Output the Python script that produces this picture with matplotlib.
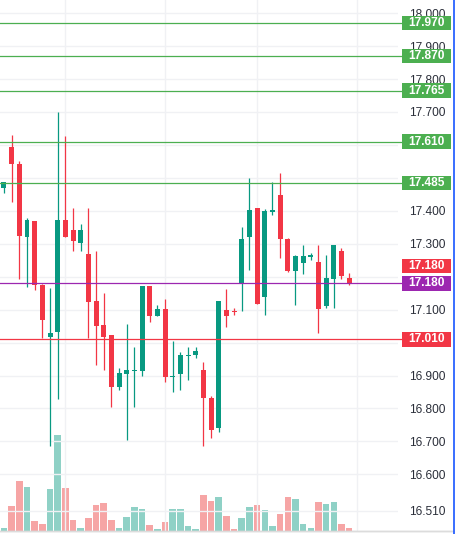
import matplotlib
matplotlib.use("Agg")
import matplotlib.pyplot as plt
import matplotlib.transforms as mtransforms
from matplotlib.patches import Rectangle

# ---------------- data ----------------
opens = [17.468, 17.595, 17.542, 17.322, 17.368, 17.176, 17.017, 17.032, 17.371, 17.343,
         17.302, 17.270, 17.125, 17.052, 17.022, 16.866, 16.904, 16.914, 16.913, 17.172,
         17.081, 17.103, 16.896, 16.904, 16.959, 16.962, 16.916, 16.832, 16.740, 17.098,
         17.095, 17.179, 17.320, 17.408, 17.138, 17.395, 17.448, 17.315, 17.216, 17.241,
         17.260, 17.246, 17.110, 17.192, 17.279, 17.197]
highs = [17.487, 17.630, 17.552, 17.379, 17.368, 17.179, 17.166, 17.701, 17.628, 17.409,
         17.359, 17.409, 17.278, 17.151, 17.022, 16.924, 17.055, 16.987, 17.172, 17.172,
         17.113, 17.131, 17.005, 16.972, 16.987, 16.987, 16.941, 16.838, 17.125, 17.164,
         17.105, 17.350, 17.500, 17.408, 17.406, 17.489, 17.515, 17.317, 17.265, 17.295,
         17.273, 17.295, 17.267, 17.295, 17.288, 17.212]
lows = [17.455, 17.426, 17.194, 17.169, 17.159, 17.014, 16.687, 16.830, 17.320, 17.278,
        17.278, 17.014, 16.933, 16.916, 16.805, 16.855, 16.704, 16.805, 16.899, 17.062,
        17.081, 16.879, 16.849, 16.855, 16.886, 16.952, 16.687, 16.711, 16.729, 17.047,
        17.083, 17.096, 17.221, 17.118, 17.085, 17.386, 17.256, 17.214, 17.115, 17.209,
        17.252, 17.030, 17.105, 17.105, 17.194, 17.175]
closes = [17.486, 17.541, 17.325, 17.371, 17.174, 17.068, 17.030, 17.371, 17.320, 17.307,
          17.343, 17.123, 17.050, 17.017, 16.866, 16.907, 16.916, 16.917, 17.172, 17.081,
          17.103, 16.896, 16.900, 16.962, 16.962, 16.975, 16.832, 16.734, 17.125, 17.081,
          17.092, 17.313, 17.404, 17.118, 17.398, 17.403, 17.315, 17.216, 17.264, 17.263,
          17.266, 17.103, 17.197, 17.295, 17.202, 17.182]
volumes = [9, 75, 150, 132, 30, 21, 126, 288, 129, 33, 9, 39, 78, 84, 33, 9, 42, 72, 66, 18,
           6, 27, 66, 66, 15, 6, 108, 90, 102, 45, 6, 39, 72, 78, 63, 15, 51, 102, 96, 21,
           9, 87, 81, 87, 21, 9]

green_levels = [17.970, 17.870, 17.765, 17.610, 17.485]
alert_level = 17.180
support_level = 17.010
last_price_label = "17.180"

tick_values = [18.0, 17.9, 17.8, 17.7, 17.4, 17.3, 17.1, 16.9, 16.8, 16.7, 16.6, 16.49]
tick_labels = ['18.000', '17.900', '17.800', '17.700', '17.400', '17.300', '17.100',
               '16.900', '16.800', '16.700', '16.600', '16.510']
hidden_ticks = [17.6, 17.5, 17.2, 17.0]
session_breaks = [8, 21, 33, 46]

# ---------------- style ----------------
UP = '#089981'
DOWN = '#f23645'
UP_VOL = '#8fd1c6'
DOWN_VOL = '#f6a5a5'
GREEN = '#4caf50'
PURPLE = '#9c27b0'
GRID = '#f0f1f4'
TEXT = '#2a2e39'

W, H = 455, 534
fig = plt.figure(figsize=(W / 100, H / 100), dpi=100)
fig.patch.set_facecolor('white')

ax_left, ax_w = 0, 398
ax_bottom, ax_h = 3, 531
ax = fig.add_axes([ax_left / W, ax_bottom / H, ax_w / W, ax_h / H])
ax2 = ax.twinx()
ax.set_zorder(ax2.get_zorder() + 1)
ax.patch.set_visible(False)

n = len(opens)
xs = list(range(n))
ax.set_xlim(-0.52, -0.52 + ax_w / 7.67)
ax.set_ylim(16.428, 18.040)
ax2.set_ylim(0, max(volumes) * ax_h / 96)

# volume
vcolors = [UP_VOL if c >= o else DOWN_VOL for o, c in zip(opens, closes)]
ax2.bar(xs, volumes, width=0.85, color=vcolors, linewidth=0)
ax2.set_yticks([])
ax2.set_xticks([])
for s in ax2.spines.values():
    s.set_visible(False)

# candles
for i in xs:
    o, h, l, c = opens[i], highs[i], lows[i], closes[i]
    col = UP if c >= o else DOWN
    ax.vlines(i, l, h, color=col, linewidth=0.9, zorder=3)
    body = max(abs(c - o), 0.003)
    bottom = min(o, c) if abs(c - o) >= 0.003 else (o + c) / 2 - 0.0015
    ax.bar(i, body, bottom=bottom, width=0.65, color=col, linewidth=0, zorder=4)

# grid
ax.set_yticks(tick_values)
ax.set_yticklabels(tick_labels)
ax.set_yticks(hidden_ticks, minor=True)
ax.set_xticks(session_breaks)
ax.set_xticklabels([])
ax.tick_params(axis='x', length=0)
ax.grid(True, which='both', color=GRID, linewidth=1.0, zorder=0)
ax.set_axisbelow(True)

ax.yaxis.tick_right()
ax.tick_params(axis='y', which='both', length=0, pad=8, labelsize=8.6,
               labelcolor=TEXT)
for lab in ax.get_yticklabels():
    lab.set_fontfamily('Liberation Sans')
for s in ['top', 'left', 'right']:
    ax.spines[s].set_visible(False)
ax.spines['bottom'].set_color('#d6d6d6')
ax.spines['bottom'].set_linewidth(1.0)
ax.spines['bottom'].set_bounds(-10, 100)

# horizontal lines
trans = mtransforms.blended_transform_factory(ax.transAxes, ax.transData)
line_end = 402 / ax_w
for lv in green_levels:
    ax.plot([0, line_end], [lv, lv], transform=trans, color=GREEN, lw=0.9,
            clip_on=False, zorder=5)
ax.plot([0, line_end], [alert_level, alert_level], transform=trans, color=PURPLE,
        lw=0.9, clip_on=False, zorder=5)
ax.plot([0, line_end], [support_level, support_level], transform=trans, color=DOWN,
        lw=0.9, clip_on=False, zorder=5)

# badges
bx0 = 401.7 / ax_w
bw = 49.5 / ax_w
ppx = (18.040 - 16.428) / ax_h
bh = 14.5 * ppx


def badge(y, text, color):
    ax.add_patch(Rectangle((bx0, y - bh / 2), bw, bh, transform=trans,
                           facecolor=color, edgecolor='none', clip_on=False,
                           zorder=10))
    ax.text(bx0 + bw / 2, y, text, transform=trans, ha='center', va='center',
            color='white', fontsize=8.6, fontweight='bold',
            family='Liberation Sans', clip_on=False, zorder=11)


for lv in green_levels:
    badge(lv, f"{lv:.3f}", GREEN)
badge(alert_level, f"{alert_level:.3f}", PURPLE)
badge(alert_level + 17.5 * ppx, last_price_label, DOWN)
badge(support_level, f"{support_level:.3f}", DOWN)

# bottom border across full width and blue right edge
fig.add_artist(plt.Line2D([0, 1], [ax_bottom / H, ax_bottom / H],
                          transform=fig.transFigure, color='#dcdcdc', lw=1.0))
fig.add_artist(plt.Line2D([453.5 / W, 453.5 / W], [0, 1],
                          transform=fig.transFigure, color='#2962ff', lw=1.3))

fig.savefig('out.png', dpi=100, facecolor='white')
